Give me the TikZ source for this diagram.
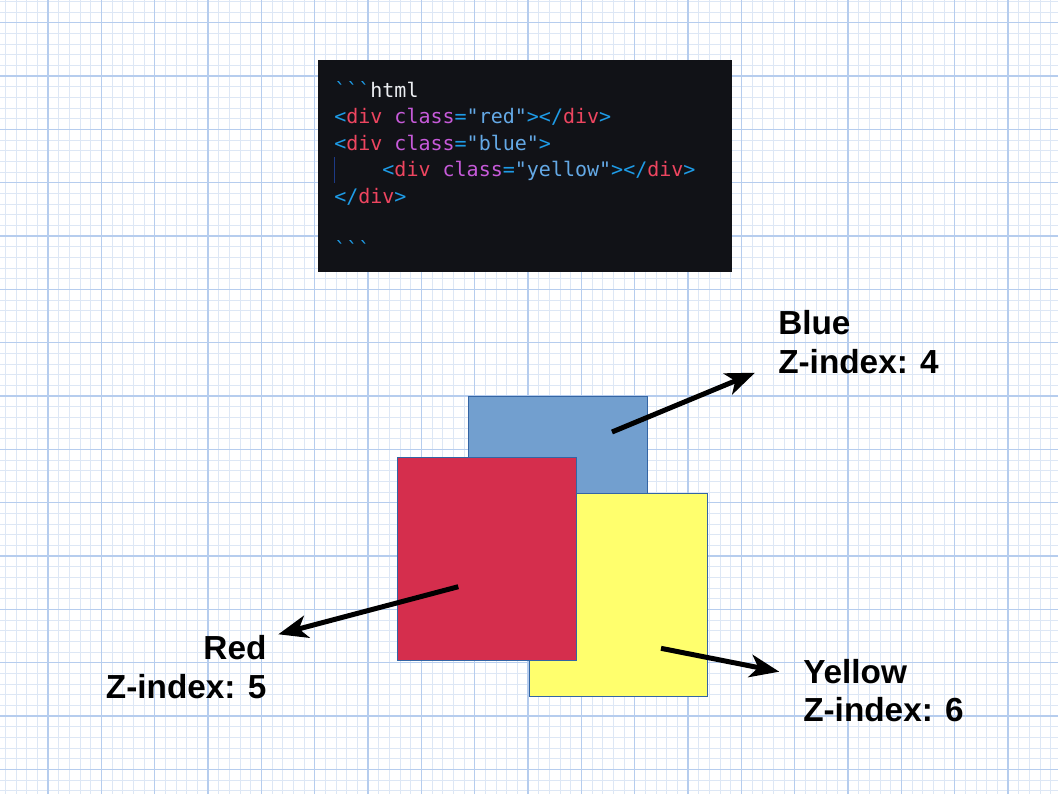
\documentclass[tikz,border=0pt]{standalone}
\usepackage{fontspec}
\setsansfont{Liberation Sans}
\setmonofont{DejaVu Sans Mono}
\usetikzlibrary{arrows.meta}

\definecolor{gridminor}{HTML}{DDE7F5}
\definecolor{gridmajor}{HTML}{B6CDEE}
\definecolor{boxedge}{HTML}{3465A4}
\definecolor{blueFill}{HTML}{729FCF}
\definecolor{redFill}{HTML}{D52E4D}
\definecolor{yellowFill}{HTML}{FFFF6D}
\definecolor{codebg}{HTML}{111217}
\definecolor{codebr}{HTML}{1E9BE6}
\definecolor{codetag}{HTML}{EE4560}
\definecolor{codeattr}{HTML}{C65AD9}
\definecolor{codestr}{HTML}{64A9E6}
\definecolor{codeplain}{HTML}{ECEEF2}
\definecolor{codeguide}{HTML}{1D3A86}

\newcommand\cBr[1]{\textcolor{codebr}{#1}}
\newcommand\cTag[1]{\textcolor{codetag}{#1}}
\newcommand\cAttr[1]{\textcolor{codeattr}{#1}}
\newcommand\cStr[1]{\textcolor{codestr}{#1}}

\tikzset{
  zbox/.style={draw=boxedge, line width=0.75pt, anchor=north west,
    minimum width=134pt, minimum height=152.5pt, inner sep=0pt},
  zarrow/.style={line width=3.75pt, -{Stealth[length=22pt, width=17pt, inset=6pt]}},
  zlabel/.style={font=\sffamily\bfseries\fontsize{25}{29}\selectfont, inner sep=0pt},
  codeline/.style={font=\ttfamily\fontsize{15}{18}\selectfont, anchor=base west, inner sep=0pt}
}

\begin{document}
\begin{tikzpicture}[x=0.75pt, y=-0.75pt]
\useasboundingbox (0,0) rectangle (1058,794);
% graph paper
\foreach \i in {0,...,99} \draw[gridminor, line width=0.75pt] ({5.333+10.667*\i},0) -- ({5.333+10.667*\i},794);
\foreach \i in {0,...,75} \draw[gridminor, line width=0.75pt] (0,{1.333+10.667*\i}) -- (1058,{1.333+10.667*\i});
\foreach \i in {0,...,19} \draw[gridmajor, line width=0.9pt] ({48+53.333*\i},0) -- ({48+53.333*\i},794);
\foreach \i in {-1,...,14} \draw[gridmajor, line width=0.9pt] (0,{76+53.333*\i}) -- (1058,{76+53.333*\i});

% code snippet
\fill[codebg] (318,60) rectangle (732,272);
\draw[codeguide, line width=1pt] (334.7,157) -- (334.7,183);
\node[codeline] (c1) at (334,97) {\cBr{```}\textcolor{codeplain}{html}};
\node[codeline] (c2) at (334,123.5) {\cBr{<}\cTag{div} \cAttr{class}\cBr{=}\cStr{"red"}\cBr{></}\cTag{div}\cBr{>}};
\node[codeline] (c3) at (334,150) {\cBr{<}\cTag{div} \cAttr{class}\cBr{=}\cStr{"blue"}\cBr{>}};
\node[codeline] (c4) at (334,176.5) {\phantom{0000}\cBr{<}\cTag{div} \cAttr{class}\cBr{=}\cStr{"yellow"}\cBr{></}\cTag{div}\cBr{>}};
\node[codeline] (c5) at (334,203) {\cBr{</}\cTag{div}\cBr{>}};
\node[codeline] (c6) at (334,256) {\cBr{```}};

% the three divs
\node[zbox, fill=blueFill] (blue) at (468.3,396) {};
\node[zbox, fill=yellowFill] (yellow) at (528.5,492.7) {};
\node[zbox, fill=redFill] (red) at (397,456.7) {};

% labels
\node[zlabel, anchor=base west, align=left] (bluelbl) at (778,373.3) {Blue\\Z-index: 4};
\node[zlabel, anchor=base east, align=right] (redlbl) at (266.7,698.3) {Red\\Z-index: 5};
\node[zlabel, anchor=base west, align=left] (yellowlbl) at (803,721.7) {Yellow\\Z-index: 6};

% arrows
\coordinate (bluefrom) at (612,432);
\coordinate (blueto) at (755,372.7);
\coordinate (redfrom) at (458.3,586.7);
\coordinate (redto) at (278.3,634.3);
\coordinate (yellowfrom) at (661,648.3);
\coordinate (yellowto) at (779.3,671.7);
\draw[zarrow] (bluefrom) -- (blueto);
\draw[zarrow] (redfrom) -- (redto);
\draw[zarrow] (yellowfrom) -- (yellowto);
\end{tikzpicture}
\end{document}
